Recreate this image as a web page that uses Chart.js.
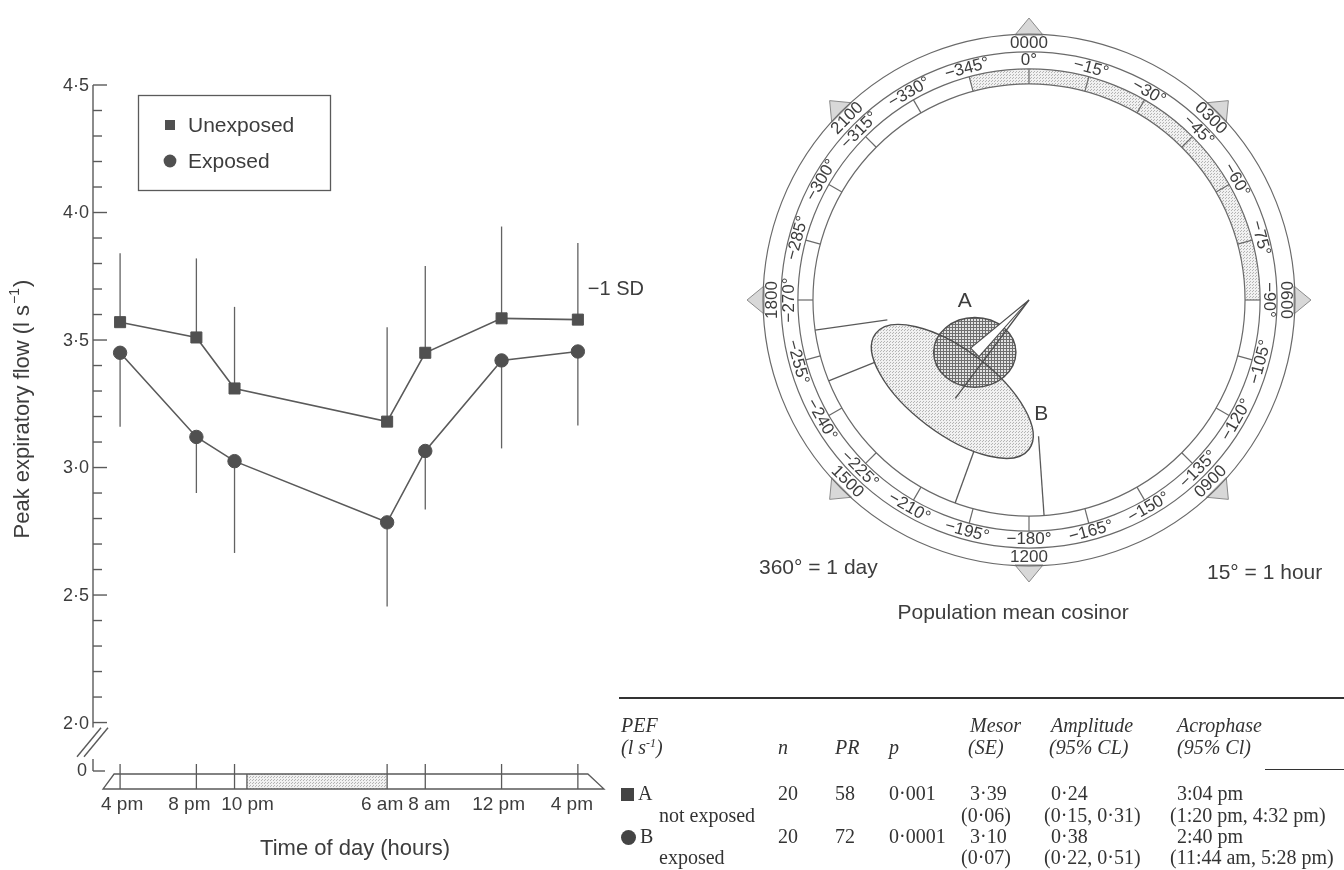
<!DOCTYPE html>
<html>
<head>
<meta charset="utf-8">
<title>Circadian rhythm of peak expiratory flow</title>
<script src="https://cdn.jsdelivr.net/npm/chart.js@4.4.1/dist/chart.umd.min.js"></script>
<style>
  html, body { margin: 0; padding: 0; background: #fff; }
  #page { position: relative; width: 1344px; height: 870px; overflow: hidden; background: #fff;
          font-family: "Liberation Sans", Arial, Helvetica, sans-serif; color: #3d3d3d; }
  #page canvas { position: absolute; }
  #flow { left: 0; top: 0; }
  #cosinor { left: 700px; top: 0; }
  .lbl { position: absolute; white-space: nowrap; line-height: 24px; height: 24px; }
  .sans { font-size: 21px; }
  .serif { font-family: "Liberation Serif", "Times New Roman", serif; font-size: 20px; color: #333; }
  .it { font-style: italic; }
  .rule { position: absolute; background: #333; }
  .mk { display: inline-block; width: 13px; height: 13px; background: #444; margin-right: 4px; vertical-align: -1px; }
  .mk.round { border-radius: 50%; width: 15px; height: 15px; vertical-align: -2px; }
  sup { font-size: 12px; vertical-align: 7px; line-height: 0; }
</style>
</head>
<body>
<div id="page">
  <canvas id="flow" width="700" height="870"></canvas>
  <canvas id="cosinor" width="644" height="640"></canvas>
</div>
<script>
// ---------- left panel: PEF through the day ----------
const timeLabels    = ['4 pm', '8 pm', '10 pm', '6 am', '8 am', '12 pm', '4 pm'];
const sampleHours   = [0, 4, 6, 14, 16, 20, 24];          // hours after 4 pm
const unexposedPEF  = [3.57, 3.51, 3.31, 3.18, 3.45, 3.585, 3.58];
const unexposedSD   = [0.27, 0.31, 0.32, 0.37, 0.34, 0.36, 0.30];
const exposedPEF    = [3.45, 3.12, 3.025, 2.785, 3.065, 3.42, 3.455];
const exposedSD     = [0.29, 0.22, 0.36, 0.33, 0.23, 0.345, 0.29];
const yTickValues   = [2.0, 2.5, 3.0, 3.5, 4.0, 4.5];
const yTickLabels   = ['2·0', '2·5', '3·0', '3·5', '4·0', '4·5'];
const sleepBar      = [6.65, 14];                          // 10:40 pm to 6 am

// ---------- right panel: population mean cosinor ----------
const groups        = ['A', 'B'];
const groupNames    = ['not exposed', 'exposed'];
const nChildren     = [20, 20];
const percentRhythm = [58, 72];
const pValues       = ['0·001', '0·0001'];
const mesor         = [3.39, 3.10];
const mesorSE       = [0.06, 0.07];
const amplitude     = [0.24, 0.38];
const amplitudeCL   = [[0.15, 0.31], [0.22, 0.51]];
const acrophase     = ['3:04 pm', '2:40 pm'];
const acrophaseCL   = [['1:20 pm', '4:32 pm'], ['11:44 am', '5:28 pm']];
const errorEllipse  = [[0.131, 0.111, 0], [0.306, 0.134, 37]];  // semi-axes (l/s), tilt deg
const hourLabels    = ['0000', '0300', '0600', '0900', '1200', '1500', '1800', '2100'];
const sleepRing     = [23, 30];                            // 2300 to 0600 next day

const INK = '#3d3d3d', LINE = '#5a5a5a', MARK = '#505050';
const SANS = '"Liberation Sans", Arial, Helvetica, sans-serif';
const BREAK_VALUE = 1.81;   // where the broken axis shows 0

const dot = v => v.toFixed(2).replace('.', '·');
function clockHours(s) {
  const m = s.match(/(\d+):(\d+)\s*(am|pm)/);
  let h = (+m[1] % 12) + (+m[2]) / 60;
  if (m[3] === 'pm') h += 12;
  return h;
}
function stipple(ctx, kind) {
  const c = document.createElement('canvas');
  const g = c.getContext('2d');
  c.width = c.height = 3;
  if (kind === 'light') {
    g.fillStyle = '#f1f1f1'; g.fillRect(0, 0, 3, 3);
    g.fillStyle = '#b4b4b4'; g.fillRect(0, 0, 1, 1); g.fillRect(1, 2, 1, 1);
  } else {
    g.fillStyle = '#e2e2e2'; g.fillRect(0, 0, 3, 3);
    g.fillStyle = '#6e6e6e'; g.fillRect(0, 0, 3, 1); g.fillRect(0, 0, 1, 3);
  }
  return ctx.createPattern(c, 'repeat');
}
function seg(ctx, x1, y1, x2, y2) {
  ctx.beginPath(); ctx.moveTo(x1, y1); ctx.lineTo(x2, y2); ctx.stroke();
}

// ---------- left chart decorations ----------
const flowDecor = {
  id: 'flowDecor',
  beforeDatasetsDraw(chart) {
    const { ctx, scales: { x, y } } = chart;
    const ax = x.left;
    ctx.save();
    ctx.strokeStyle = LINE; ctx.lineWidth = 1.4;

    // broken y axis
    const yTop = y.getPixelForValue(yTickValues[yTickValues.length - 1]);
    const y2 = y.getPixelForValue(yTickValues[0]);
    const y0 = y.getPixelForValue(BREAK_VALUE);
    seg(ctx, ax, yTop, ax, y2 + 5);
    seg(ctx, ax, y0 - 12, ax, y0);
    seg(ctx, ax, y0, ax + 12, y0);
    const bc = (y2 + y0) / 2 - 5;
    for (const d of [-4, 3]) seg(ctx, ax - 12 + d, bc + 15, ax + 12 + d, bc - 14);
    for (let k = 20; k <= 45; k++) {
      const py = y.getPixelForValue(k / 10);
      seg(ctx, ax, py, ax + (k % 5 === 0 ? 14 : 9), py);
    }
    ctx.fillStyle = INK;
    ctx.font = '18px ' + SANS; ctx.textAlign = 'right'; ctx.textBaseline = 'middle';
    yTickValues.forEach((v, i) => ctx.fillText(yTickLabels[i], ax - 4, y.getPixelForValue(v) + 1));
    ctx.fillText('0', ax - 6, y0);

    // y title with superscript
    ctx.save();
    ctx.translate(23, 410); ctx.rotate(-Math.PI / 2);
    ctx.textAlign = 'left';
    const main = 'Peak expiratory flow (l s', sup = '−1', end = ')';
    ctx.font = '22px ' + SANS; const w1 = ctx.measureText(main).width, w3 = ctx.measureText(end).width;
    ctx.font = '14px ' + SANS; const w2 = ctx.measureText(sup).width;
    const sx = -(w1 + w2 + w3) / 2;
    ctx.font = '22px ' + SANS; ctx.fillText(main, sx, 0);
    ctx.font = '14px ' + SANS; ctx.fillText(sup, sx + w1 + 1, -8);
    ctx.font = '22px ' + SANS; ctx.fillText(end, sx + w1 + w2 + 2, 0);
    ctx.restore();

    // time-of-day bar
    const bt = y0 + 3, bb = y0 + 18;
    const xl = x.getPixelForValue(sampleHours[0]);
    const xr = x.getPixelForValue(sampleHours[sampleHours.length - 1]);
    const s0 = x.getPixelForValue(sleepBar[0]), s1 = x.getPixelForValue(sleepBar[1]);
    ctx.fillStyle = stipple(ctx, 'light');
    ctx.fillRect(s0, bt, s1 - s0, bb - bt);
    ctx.lineWidth = 1.3;
    seg(ctx, s0, bt, s0, bb);
    ctx.beginPath();
    ctx.moveTo(xl - 6, bt); ctx.lineTo(xr + 10, bt); ctx.lineTo(x.right, bb);
    ctx.lineTo(x.left + 10, bb); ctx.closePath(); ctx.stroke();
    const labelShift = [2, -7, 13, -5, 4, -3, -6];
    ctx.fillStyle = INK; ctx.font = '19px ' + SANS; ctx.textAlign = 'center';
    sampleHours.forEach((h, i) => {
      const px = x.getPixelForValue(h);
      seg(ctx, px, bt - 10, px, bb);
      ctx.fillText(timeLabels[i], px + labelShift[i], bb + 16);
    });
    ctx.font = '22px ' + SANS;
    ctx.fillText('Time of day (hours)', 355, 849);

    // one-sided SD bars
    ctx.strokeStyle = '#626262'; ctx.lineWidth = 1.3;
    sampleHours.forEach((h, i) => {
      const px = x.getPixelForValue(h);
      seg(ctx, px, y.getPixelForValue(unexposedPEF[i]), px, y.getPixelForValue(unexposedPEF[i] + unexposedSD[i]));
      seg(ctx, px, y.getPixelForValue(exposedPEF[i]), px, y.getPixelForValue(exposedPEF[i] - exposedSD[i]));
    });
    const last = sampleHours.length - 1;
    ctx.font = '20px ' + SANS; ctx.textAlign = 'left';
    ctx.fillText('−1 SD', x.getPixelForValue(sampleHours[last]) + 10, y.getPixelForValue(unexposedPEF[last]) - 30);
    ctx.restore();
  },
  afterDatasetsDraw(chart) {
    const { ctx } = chart;
    ctx.save();
    ctx.strokeStyle = LINE; ctx.lineWidth = 1.3;
    ctx.strokeRect(138.5, 95.5, 192, 95);
    chart.data.datasets.forEach((ds, i) => {
      const cy = 125 + i * 36;
      ctx.fillStyle = MARK;
      if (ds.pointStyle === 'rect') ctx.fillRect(165, cy - 5, 10, 10);
      else { ctx.beginPath(); ctx.arc(170, cy, 6.4, 0, 2 * Math.PI); ctx.fill(); }
      ctx.fillStyle = INK; ctx.font = '21px ' + SANS;
      ctx.textAlign = 'left'; ctx.textBaseline = 'middle';
      ctx.fillText(ds.label, 188, cy + 1);
    });
    ctx.restore();
  }
};

new Chart(document.getElementById('flow'), {
  type: 'line',
  data: {
    datasets: [
      { label: 'Unexposed', data: sampleHours.map((h, i) => ({ x: h, y: unexposedPEF[i] })),
        pointStyle: 'rect', pointRadius: 7.8 },
      { label: 'Exposed', data: sampleHours.map((h, i) => ({ x: h, y: exposedPEF[i] })),
        pointStyle: 'circle', pointRadius: 6.7 }
    ].map(ds => Object.assign(ds, {
      borderColor: LINE, borderWidth: 1.6, tension: 0, fill: false,
      pointBackgroundColor: MARK, pointBorderColor: MARK, pointBorderWidth: 1
    }))
  },
  options: {
    responsive: false, animation: false, events: [],
    layout: { padding: { left: 93, right: 96, top: 85, bottom: 99 } },
    scales: {
      x: { type: 'linear', min: -1.42, max: 25.37, display: false },
      y: { type: 'linear', min: BREAK_VALUE, max: 4.5, display: false }
    },
    plugins: { legend: { display: false }, tooltip: { enabled: false } }
  },
  plugins: [flowDecor]
});

// ---------- cosinor ----------
const PX_PER_UNIT = 314;
const POLE = { x: 329, y: 300 };            // pole inside the cosinor canvas
const RING = [0.847, 0.790, 0.736, 0.688];  // ring radii, l/s units
const acroDeg = acrophase.map(s => clockHours(s) * 15);
const vectorEnds = amplitude.map((a, i) => {
  const t = acroDeg[i] * Math.PI / 180;
  return { x: a * Math.sin(t), y: a * Math.cos(t) };
});

const cosinorDecor = {
  id: 'cosinorDecor',
  beforeDatasetsDraw(chart) {
    const { ctx, scales: { x, y } } = chart;
    const cx = x.getPixelForValue(0), cy = y.getPixelForValue(0);
    const k = x.getPixelForValue(1) - cx;
    const at = (r, deg) => {
      const t = deg * Math.PI / 180;
      return [x.getPixelForValue(r * Math.sin(t)), y.getPixelForValue(r * Math.cos(t))];
    };
    const arcAng = deg => (deg - 90) * Math.PI / 180;
    ctx.save();

    // sleep sector in the inner band
    ctx.beginPath();
    ctx.arc(cx, cy, RING[2] * k, arcAng(sleepRing[0] * 15), arcAng(sleepRing[1] * 15));
    ctx.arc(cx, cy, RING[3] * k, arcAng(sleepRing[1] * 15), arcAng(sleepRing[0] * 15), true);
    ctx.closePath();
    ctx.fillStyle = stipple(ctx, 'light'); ctx.fill();

    // arrowheads every 3 h
    hourLabels.forEach((lab, i) => {
      const t = i * 45 * Math.PI / 180;
      const ux = Math.sin(t), uy = -Math.cos(t), nx = -uy, ny = ux;
      const r1 = RING[0] * k - 1;
      const bx = cx + r1 * ux, by = cy + r1 * uy;
      ctx.beginPath();
      ctx.moveTo(bx + 14 * nx, by + 14 * ny);
      ctx.lineTo(bx + 17 * ux, by + 17 * uy);
      ctx.lineTo(bx - 14 * nx, by - 14 * ny);
      ctx.closePath();
      ctx.fillStyle = '#d8d8d8'; ctx.fill();
      ctx.strokeStyle = '#8a8a8a'; ctx.lineWidth = 1; ctx.stroke();
    });

    // rings and hour ticks
    ctx.strokeStyle = '#6a6a6a'; ctx.lineWidth = 1.2;
    RING.forEach(r => { ctx.beginPath(); ctx.arc(cx, cy, r * k, 0, 2 * Math.PI); ctx.stroke(); });
    for (let h = 0; h < 24; h++) {
      const [x1, y1] = at(RING[3], h * 15), [x2, y2] = at(RING[2], h * 15);
      seg(ctx, x1, y1, x2, y2);
    }

    // ring labels
    const ringText = (text, r, deg) => {
      const [px, py] = at(r, deg);
      let rot = deg % 360;
      if (rot > 90 && rot < 270) rot -= 180;
      ctx.save(); ctx.translate(px, py); ctx.rotate(rot * Math.PI / 180);
      ctx.fillText(text, 0, 0); ctx.restore();
    };
    ctx.fillStyle = INK; ctx.textAlign = 'center'; ctx.textBaseline = 'middle';
    ctx.font = '17px ' + SANS;
    for (let h = 0; h < 24; h++) {
      const deg = h * 15;
      ringText(deg === 0 ? '0°' : '−' + deg + '°', (RING[1] + RING[2]) / 2, deg);
    }
    hourLabels.forEach((lab, i) => ringText(lab, (RING[0] + RING[1]) / 2, i * 45));

    // error ellipses in pixel space
    const meta = chart.getDatasetMeta(0).data;
    const ell = errorEllipse.map((e, i) => ({
      cx: meta[i].x, cy: meta[i].y, a: e[0] * k, b: e[1] * k, rot: e[2] * Math.PI / 180
    }));
    const inside = (px, py, e) => {
      const dx = px - e.cx, dy = py - e.cy, c = Math.cos(e.rot), s = Math.sin(e.rot);
      const u = dx * c + dy * s, v = -dx * s + dy * c;
      return (u / e.a) ** 2 + (v / e.b) ** 2;
    };
    const B = ell[1];

    // acrophase confidence limits: from the band in to ellipse B
    ctx.strokeStyle = LINE; ctx.lineWidth = 1.3;
    acrophaseCL.forEach(pair => pair.forEach(s => {
      const deg = clockHours(s) * 15, t = deg * Math.PI / 180;
      const ux = Math.sin(t), uy = -Math.cos(t);
      let best = RING[3] * k, bestF = Infinity, stop = null;
      for (let r = RING[3] * k; r > 0; r -= 0.5) {
        const f = inside(cx + r * ux, cy + r * uy, B);
        if (f < 1) { stop = r; break; }
        if (f < bestF) { bestF = f; best = r; }
      }
      const rEnd = stop !== null ? stop : best;
      seg(ctx, cx + RING[3] * k * ux, cy + RING[3] * k * uy, cx + rEnd * ux, cy + rEnd * uy);
    }));

    const ellPath = e => { ctx.beginPath(); ctx.ellipse(e.cx, e.cy, e.a, e.b, e.rot, 0, 2 * Math.PI); };
    ellPath(B); ctx.fillStyle = stipple(ctx, 'light'); ctx.fill();
    ctx.strokeStyle = '#4e4e4e'; ctx.lineWidth = 1.4; ctx.stroke();
    const A = ell[0];
    ellPath(A); ctx.fillStyle = stipple(ctx, 'dense'); ctx.fill(); ctx.stroke();
    // B outline stays visible across A
    ctx.save(); ellPath(A); ctx.clip(); ellPath(B); ctx.stroke(); ctx.restore();

    // vector A as a narrow wedge, vector B as a line
    const dx = A.cx - cx, dy = A.cy - cy, L = Math.hypot(dx, dy), nx = -dy / L, ny = dx / L;
    ctx.beginPath();
    ctx.moveTo(cx, cy); ctx.lineTo(A.cx + 6 * nx, A.cy + 6 * ny); ctx.lineTo(A.cx - 6 * nx, A.cy - 6 * ny);
    ctx.closePath(); ctx.fillStyle = '#fff'; ctx.fill(); ctx.lineWidth = 1.1; ctx.stroke();
    ctx.lineWidth = 1.3;
    seg(ctx, cx, cy, B.cx + 3, B.cy + 7);

    ctx.fillStyle = INK; ctx.font = '21px ' + SANS;
    const nameOffset = [[-10, -51], [89, 23]];
    groups.forEach((g, i) => ctx.fillText(g, ell[i].cx + nameOffset[i][0], ell[i].cy + nameOffset[i][1]));
    ctx.restore();
  }
};

new Chart(document.getElementById('cosinor'), {
  type: 'scatter',
  data: { datasets: [{ data: vectorEnds, pointRadius: 0 }] },
  options: {
    responsive: false, animation: false, events: [],
    layout: { padding: 0 },
    scales: {
      x: { type: 'linear', display: false, min: -POLE.x / PX_PER_UNIT, max: (644 - POLE.x) / PX_PER_UNIT },
      y: { type: 'linear', display: false, min: -(640 - POLE.y) / PX_PER_UNIT, max: POLE.y / PX_PER_UNIT }
    },
    plugins: { legend: { display: false }, tooltip: { enabled: false } }
  },
  plugins: [cosinorDecor]
});

// ---------- captions and table ----------
const page = document.getElementById('page');
function put(html, left, cy, cls) {
  const d = document.createElement('div');
  d.className = 'lbl ' + cls;
  d.style.left = left + 'px';
  d.style.top = (cy - 12) + 'px';
  d.innerHTML = html;
  page.appendChild(d);
  return d;
}
function rule(left, top, width, h) {
  const d = document.createElement('div');
  d.className = 'rule';
  Object.assign(d.style, { left: left + 'px', top: top + 'px', width: width + 'px', height: h + 'px' });
  page.appendChild(d);
}
put('360° = 1 day', 759, 567, 'sans');
put('15° = 1 hour', 1207, 572, 'sans');
const cap = put('Population mean cosinor', 0, 612, 'sans');
cap.style.left = (1013 - cap.offsetWidth / 2) + 'px';

const COL = { pef: 621, name: 659, n: 778, pr: 835, p: 889, mesor: 970, amp: 1051, acro: 1177 };
const HANG = 7;
rule(619, 697, 725, 2);
rule(1265, 769, 79, 1);
put('PEF', COL.pef, 725, 'serif it');
put('(l s<sup>-1</sup>)', COL.pef, 747, 'serif it');
put('n', COL.n, 747, 'serif it');
put('PR', COL.pr, 747, 'serif it');
put('p', COL.p, 747, 'serif it');
put('Mesor', COL.mesor, 725, 'serif it');
put('(SE)', COL.mesor - 2, 747, 'serif it');
put('Amplitude', COL.amp, 725, 'serif it');
put('(95% CL)', COL.amp - 2, 747, 'serif it');
put('Acrophase', COL.acro, 725, 'serif it');
put('(95% Cl)', COL.acro, 747, 'serif it');

const rowY = [[793, 815], [836, 857]];
groups.forEach((g, i) => {
  const [ya, yb] = rowY[i];
  put('<span class="mk' + (i ? ' round' : '') + '"></span>' + g, COL.pef, ya, 'serif');
  put(groupNames[i], COL.name, yb, 'serif');
  put(String(nChildren[i]), COL.n, ya, 'serif');
  put(String(percentRhythm[i]), COL.pr, ya, 'serif');
  put(pValues[i], COL.p, ya, 'serif');
  put(dot(mesor[i]), COL.mesor, ya, 'serif');
  put('(' + dot(mesorSE[i]) + ')', COL.mesor - HANG - 2, yb, 'serif');
  put(dot(amplitude[i]), COL.amp, ya, 'serif');
  put('(' + dot(amplitudeCL[i][0]) + ', ' + dot(amplitudeCL[i][1]) + ')', COL.amp - HANG, yb, 'serif');
  put(acrophase[i], COL.acro, ya, 'serif');
  put('(' + acrophaseCL[i][0] + ', ' + acrophaseCL[i][1] + ')', COL.acro - HANG, yb, 'serif');
});
</script>
</body>
</html>
